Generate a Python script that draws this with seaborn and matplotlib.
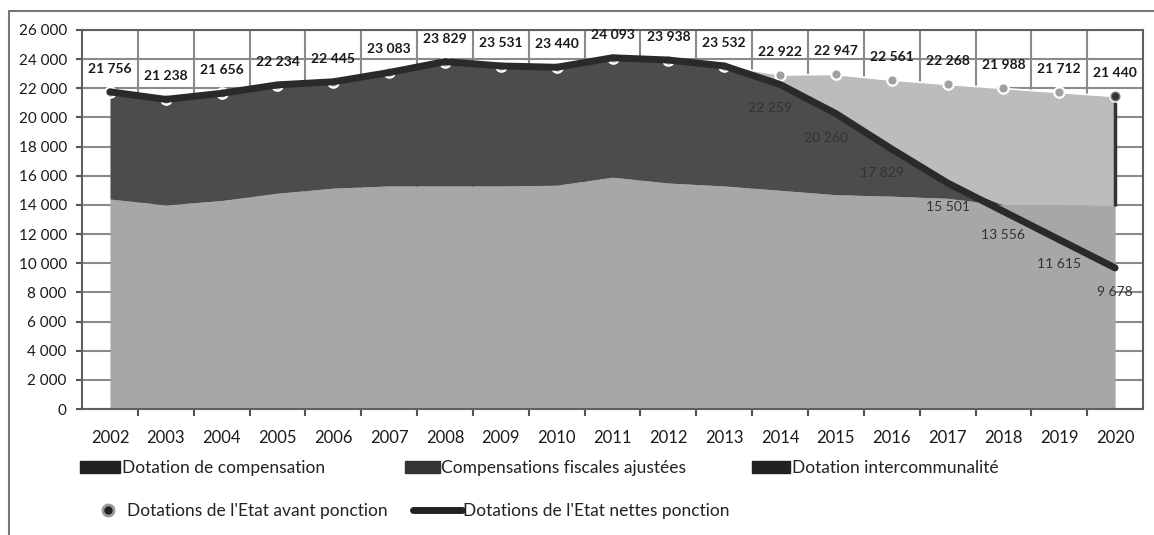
import matplotlib
matplotlib.use('Agg')
import matplotlib.pyplot as plt
import seaborn as sns
from matplotlib.lines import Line2D
from matplotlib.patches import Patch

# Data (k EUR)
years = list(range(2002, 2021))
dotation_compensation = [14400, 14000, 14300, 14800, 15150, 15300, 15300, 15300, 15350, 15900,
                         15500, 15300, 15000, 14700, 14600, 14450, 14000, 14000, 13950]
compensations_fiscales = [7350, 7240, 7360, 7430, 7300, 7780, 8530, 8230, 8090, 8190,
                          8440, 8230, 7260, 5560, 3230, 1050, 0, 0, 0]
dotation_interco = [0, 0, 0, 0, 0, 0, 0, 0, 0, 0,
                    0, 0, 660, 2690, 4730, 6770, 7990, 7710, 7490]
avant_ponction = [21756, 21238, 21656, 22234, 22445, 23083, 23829, 23531, 23440, 24093,
                  23938, 23532, 22922, 22947, 22561, 22268, 21988, 21712, 21440]
nettes_ponction = [21756, 21238, 21656, 22234, 22445, 23083, 23829, 23531, 23440, 24093,
                   23938, 23532, 22259, 20260, 17829, 15501, 13556, 11615, 9678]
y_ticks = list(range(0, 26001, 2000))


def fmt(v):
    return f"{v:,}".replace(",", " ")


sns.set_theme(style='white')
plt.rcParams['font.family'] = ['Lato', 'DejaVu Sans']

fig = plt.figure(figsize=(11.54, 5.35), dpi=100)
ax = fig.add_axes([0.0711, 0.2355, 0.9194, 0.7085])

# Stacked areas
ax.stackplot(years, dotation_compensation, compensations_fiscales, dotation_interco,
             colors=['#a7a7a7', '#4c4c4c', '#bcbcbc'], lw=0, zorder=2)
# dark right edge of the last area
ax.vlines(years[-1], dotation_compensation[-1], avant_ponction[-1], color='#333333', lw=2.5, zorder=2.5)

# Lines
sns.lineplot(x=years, y=avant_ponction, ax=ax, color='white', lw=1.2, marker='o',
             markersize=7.5, markerfacecolor='#a0a0a0', markeredgecolor='white',
             markeredgewidth=1.6, zorder=3)
sns.scatterplot(x=years[-1:], y=avant_ponction[-1:], ax=ax, color='#333333', s=38,
                edgecolor='#777777', linewidth=1, zorder=3.5)
sns.lineplot(x=years, y=nettes_ponction, ax=ax, color='#2a2a2a', lw=5, zorder=4)

# Data labels
for yr, v in zip(years, avant_ponction):
    ax.annotate(fmt(v), (yr, v), xytext=(0, 23), textcoords='offset pixels',
                ha='center', va='center', fontsize=10, fontweight='bold', color='#1a1a1a', zorder=6)
for yr, v, a in zip(years, nettes_ponction, avant_ponction):
    if v != a:
        ax.annotate(fmt(v), (yr, v), xytext=(-10 if yr < 2017 else 0, -24), textcoords='offset pixels',
                    ha='center', va='center', fontsize=10, color='#333333', zorder=6)

# Axes
ax.set_xlim(2001.5, 2020.5)
ax.set_ylim(0, 26000)
ax.set_yticks(y_ticks)
ax.set_yticklabels([fmt(t) for t in y_ticks])
ax.set_xticks(years)
ax.set_xticklabels([str(y) for y in years])
ax.set_xticks([y + 0.5 for y in years[:-1]], minor=True)
ax.set_axisbelow(True)
ax.yaxis.grid(True, color='#8a8a8a', lw=1.5)
ax.xaxis.grid(True, which='minor', color='#8a8a8a', lw=1.5)
ax.xaxis.grid(False, which='major')
ax.tick_params(axis='x', which='major', length=0, pad=15, labelsize=12, labelcolor='#1a1a1a')
ax.tick_params(axis='x', which='minor', length=5, width=1.5, color='#555555', direction='out', bottom=True)
ax.tick_params(axis='y', length=4, width=1.5, color='#555555', direction='out', left=True,
               pad=7, labelsize=11, labelcolor='#1a1a1a')
for s in ax.spines.values():
    s.set_color('#606060')
    s.set_linewidth(1.5)
ax.set_xlabel('')
ax.set_ylabel('')

# Outer chart frame (top and left edges of the scanned frame)
fig.add_artist(Line2D([9 / 1154, 1], [1 - 11 / 535] * 2, transform=fig.transFigure,
                      color='#777777', lw=1.5))
fig.add_artist(Line2D([9 / 1154] * 2, [0, 1 - 11 / 535], transform=fig.transFigure,
                      color='#777777', lw=1.5))

# Legend items, placed like the original
common = dict(loc='center left', frameon=False, fontsize=12.5, borderpad=0, borderaxespad=0,
              labelcolor='#222222')
row1 = 1 - 468 / 535
row2 = 1 - 511 / 535
fig.legend(handles=[Patch(color='#222222')], labels=['Dotation de compensation'],
           bbox_to_anchor=(80 / 1154, row1), handlelength=2.3, handleheight=0.7,
           handletextpad=0.1, **common)
fig.legend(handles=[Patch(color='#333333')], labels=['Compensations fiscales ajustées'],
           bbox_to_anchor=(405 / 1154, row1), handlelength=2.0, handleheight=0.7,
           handletextpad=0.1, **common)
fig.legend(handles=[Patch(color='#222222')], labels=['Dotation intercommunalité'],
           bbox_to_anchor=(752 / 1154, row1), handlelength=2.2, handleheight=0.7,
           handletextpad=0.1, **common)
fig.legend(handles=[Line2D([], [], ls='none', marker='o', ms=8, mfc='#222222', mec='#999999', mew=2)],
           labels=["Dotations de l'Etat avant ponction"],
           bbox_to_anchor=(100 / 1154, row2), handlelength=0.9, handletextpad=0.63, **common)
fig.legend(handles=[Line2D([], [], color='#222222', lw=5)],
           labels=["Dotations de l'Etat nettes ponction"],
           bbox_to_anchor=(413 / 1154, row2), handlelength=2.8, handletextpad=0.1, **common)

fig.savefig('out.png', dpi=100)
